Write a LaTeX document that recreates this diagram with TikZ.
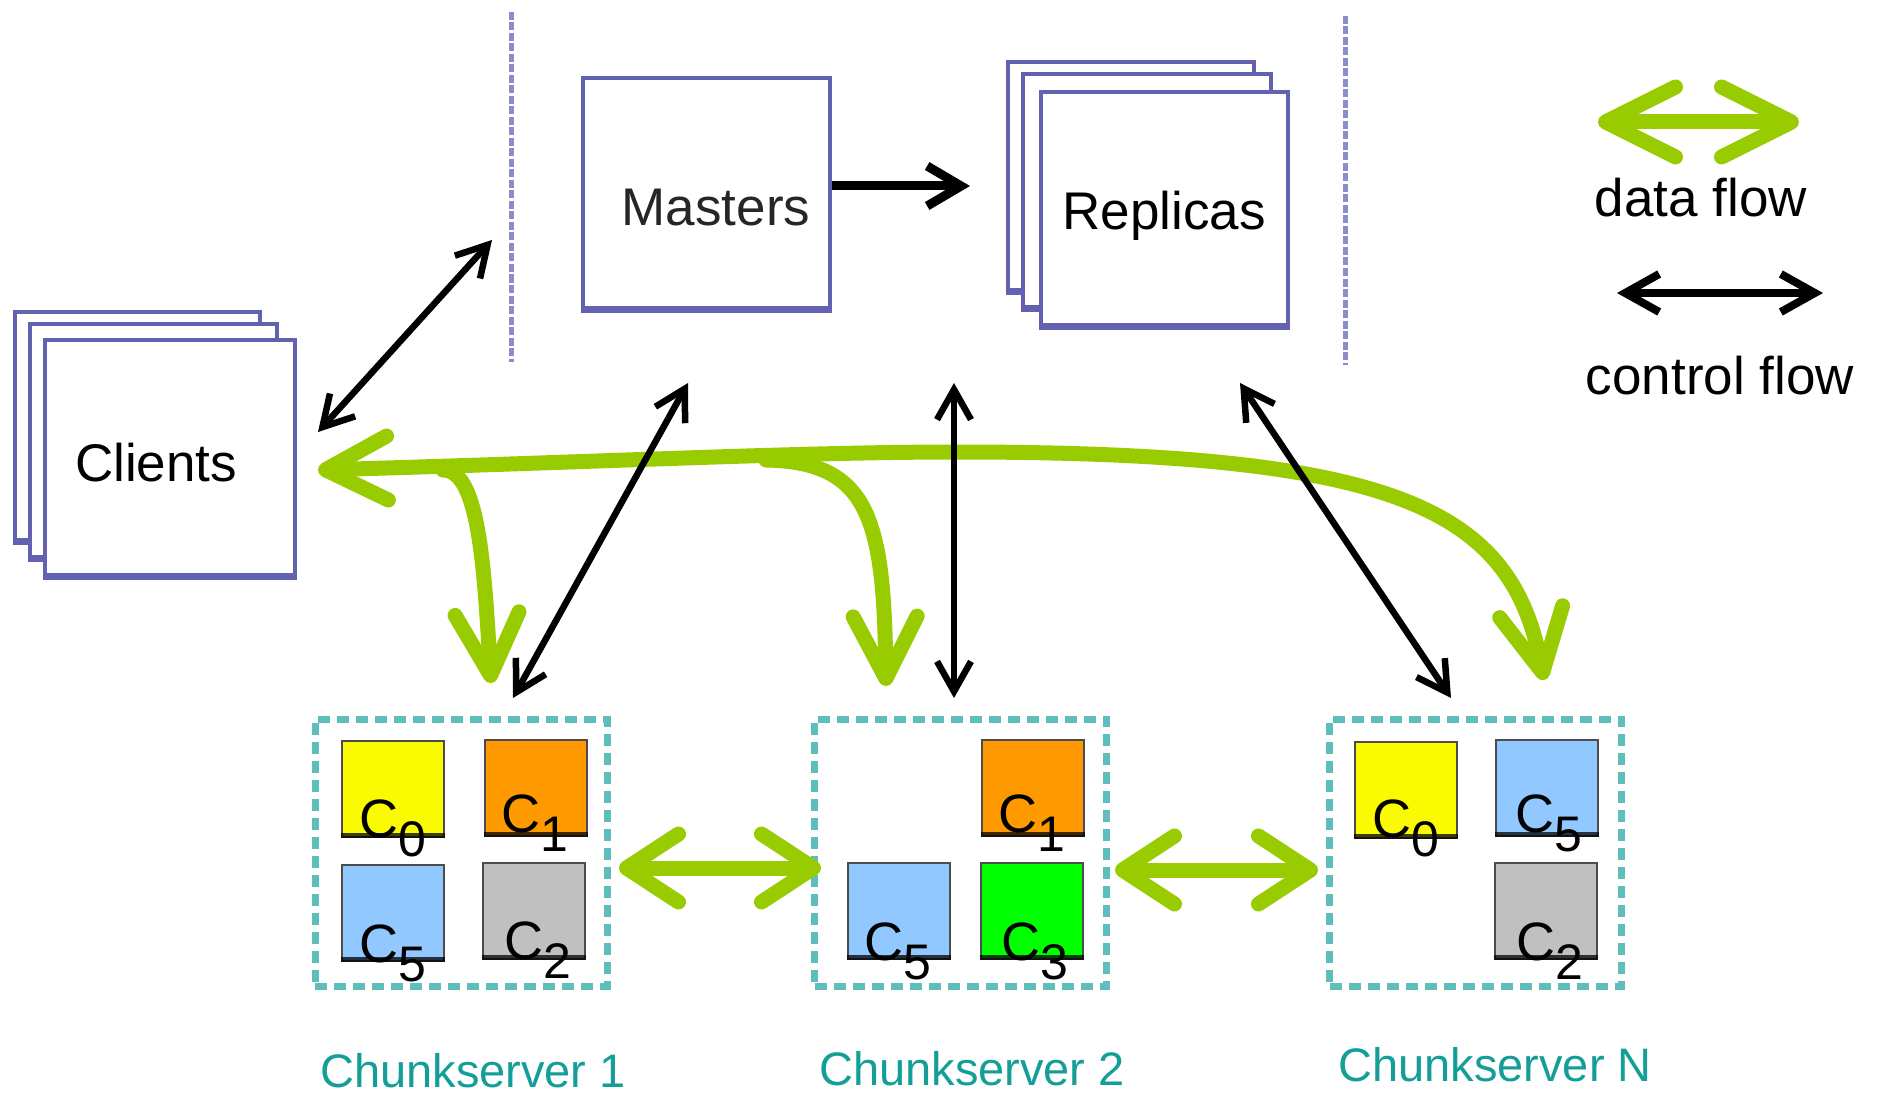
\documentclass[tikz,border=0pt]{standalone}
\usepackage{fontspec}
\setmainfont{Liberation Sans}
\usetikzlibrary{arrows.meta}
\definecolor{boxblue}{RGB}{98,98,176}
\definecolor{dashblue}{RGB}{140,140,200}
\definecolor{tealline}{RGB}{94,190,188}
\definecolor{tealtxt}{RGB}{20,158,152}
\definecolor{dgreen}{RGB}{153,204,0}
\definecolor{cyel}{RGB}{250,250,0}
\definecolor{corg}{RGB}{255,153,0}
\definecolor{cblue}{RGB}{144,200,255}
\definecolor{cgray}{RGB}{192,192,192}
\definecolor{cgreen}{RGB}{0,255,0}
\newcommand{\chunksub}[1]{\raisebox{-19pt}{\fontsize{50}{50}\selectfont #1}}
\begin{document}
\begin{tikzpicture}[x=1pt,y=-1pt,
  sbox/.style={draw=boxblue, line width=3.5pt, fill=white, inner sep=0pt},
  bottomedge/.style={draw=boxblue, line width=7pt},
  bigtxt/.style={font=\fontsize{53}{60}\selectfont, inner sep=0pt},
  cslabel/.style={font=\fontsize{47}{56}\selectfont, text=tealtxt, inner sep=0pt},
  csbox/.style={draw=tealline, line width=7pt, dash pattern=on 12pt off 7pt, minimum width=292pt, minimum height=267pt, inner sep=0pt},
  chunk/.style={draw=black!70, line width=2pt, minimum width=102pt, minimum height=96pt, inner sep=0pt},
  chunkbase/.style={draw=black, opacity=.75, line width=5pt},
  clab/.style={font=\fontsize{54}{60}\selectfont, inner sep=0pt, anchor=base west},
  vdash/.style={draw=dashblue, line width=5pt, dash pattern=on 8pt off 2.5pt},
  ctrl/.style={draw=black, line width=6.5pt, >={Straight Barb[length=30pt,width=34pt]}},
  data/.style={draw=dgreen, line width=15pt, line cap=round, >={Straight Barb[round,length=62pt,width=64pt]}},
]
\useasboundingbox (0,0) rectangle (1877,1094);

% ---------- Clients stack ----------
\node[sbox, minimum width=245pt, minimum height=228pt] (cl3) at (137.5,426) {};
\draw[bottomedge] (cl3.south west) -- (cl3.south east);
\node[sbox, minimum width=247pt, minimum height=233pt] (cl2) at (153.5,440.5) {};
\draw[bottomedge] (cl2.south west) -- (cl2.south east);
\node[sbox, minimum width=250pt, minimum height=235pt] (clients) at (170,457.5) {};
\draw[bottomedge] (clients.south west) -- (clients.south east);
\node[bigtxt] (clientstxt) at (156,463) {Clients};

% ---------- Masters ----------
\node[sbox, minimum width=247pt, minimum height=230pt] (masters) at (706.5,193) {};
\draw[bottomedge] (masters.south west) -- (masters.south east);
\node[bigtxt, text=black!85] (masterstxt) at (716,208) {Masters};

% ---------- Replicas stack ----------
\node[sbox, minimum width=246pt, minimum height=228pt] (rp3) at (1131,176) {};
\draw[bottomedge] (rp3.south west) -- (rp3.south east);
\node[sbox, minimum width=248pt, minimum height=233pt] (rp2) at (1147,190.5) {};
\draw[bottomedge] (rp2.south west) -- (rp2.south east);
\node[sbox, minimum width=247pt, minimum height=233pt] (replicas) at (1164.5,208.5) {};
\draw[bottomedge] (replicas.south west) -- (replicas.south east);
\node[bigtxt] (replicastxt) at (1164,216) {Replicas};

% ---------- dashed separators ----------
\coordinate (d1t) at (511,12);
\coordinate (d1b) at (511,362);
\coordinate (d2t) at (1345,16);
\coordinate (d2b) at (1345,365);
\draw[vdash] (d1t) -- (d1b);
\draw[vdash] (d2t) -- (d2b);

% ---------- Chunkservers ----------
\node[csbox] (cs1) at (461,852.5) {};
\node[csbox] (cs2) at (960.5,852.5) {};
\node[csbox] (csN) at (1475.5,852.5) {};

% chunks server 1
\node[chunk, fill=cyel] (a0) at (392.5,789) {};
\node[chunk, fill=corg] (a1) at (535.5,787.5) {};
\node[chunk, fill=cblue] (a5) at (392.5,913) {};
\node[chunk, fill=cgray] (a2) at (534,910.5) {};
% chunks server 2
\node[chunk, fill=corg] (b1) at (1032.5,787.5) {};
\node[chunk, fill=cblue] (b5) at (898.5,911) {};
\node[chunk, fill=cgreen] (b3) at (1031.5,911) {};
% chunks server N
\node[chunk, fill=cyel] (n0) at (1405.5,789.5) {};
\node[chunk, fill=cblue] (n5) at (1547,787.5) {};
\node[chunk, fill=cgray] (n2) at (1546,911) {};

\foreach \c in {a0,a1,a5,a2,b1,b5,b3,n0,n5,n2}{
  \draw[chunkbase] ([yshift=2.5pt]\c.south west) -- ([yshift=2.5pt]\c.south east);
}

\node[clab] (la0) at ([xshift=19pt,yshift=1pt]a0.south west) {C\chunksub{0}};
\node[clab] (la1) at ([xshift=18pt,yshift=4pt]a1.south west) {C\chunksub{1}};
\node[clab] (la5) at ([xshift=19pt,yshift=0pt]a5.south west) {C\chunksub{5}};
\node[clab] (la2) at ([xshift=22pt,yshift=0pt]a2.south west) {C\chunksub{2}};
\node[clab] (lb1) at ([xshift=18pt,yshift=4pt]b1.south west) {C\chunksub{1}};
\node[clab] (lb5) at ([xshift=18pt,yshift=0pt]b5.south west) {C\chunksub{5}};
\node[clab] (lb3) at ([xshift=22pt,yshift=0pt]b3.south west) {C\chunksub{3}};
\node[clab] (ln0) at ([xshift=19pt,yshift=1pt]n0.south west) {C\chunksub{0}};
\node[clab] (ln5) at ([xshift=20pt,yshift=4pt]n5.south west) {C\chunksub{5}};
\node[clab] (ln2) at ([xshift=22pt,yshift=0pt]n2.south west) {C\chunksub{2}};

\node[cslabel] (cs1txt) at (473,1071) {Chunkserver 1};
\node[cslabel] (cs2txt) at (972,1069) {Chunkserver 2};
\node[cslabel] (csNtxt) at (1495,1065) {Chunkserver N};

% ---------- data flow (green) ----------
\coordinate (gC) at (318,470);
\coordinate (gM) at (958,452);
\coordinate (gN) at (1544,680);
\coordinate (b1s) at (443,470);
\coordinate (b1e) at (491,683);
\coordinate (b2s) at (766,460);
\coordinate (b2e) at (886,686);
\draw[data,->] (b1s) .. controls (478,470) and (484,560) .. (b1e);
\draw[data,->] (b2s) .. controls (870,462) and (884,520) .. (b2e);
\draw[data,<->] (gC) .. controls (600,462) and (800,452) .. (gM)
                     .. controls (1400,452) and (1512,510) .. (gN);

\coordinate (l12a) at (619,868);
\coordinate (l12b) at (821,868);
\coordinate (l2Na) at (1115,870);
\coordinate (l2Nb) at (1318,870);
\draw[data,<->,>={Straight Barb[round,length=52pt,width=68pt]}] (l12a) -- (l12b);
\draw[data,<->,>={Straight Barb[round,length=52pt,width=68pt]}] (l2Na) -- (l2Nb);

% ---------- control flow (black) ----------
\coordinate (mrA) at (masters.east |- 0,186);
\coordinate (mrB) at (970,186);
\draw[ctrl,->,line width=9pt,>={Straight Barb[length=34pt,width=40pt]}] (mrA) -- (mrB);

\coordinate (c1a) at (318,432);
\coordinate (c1b) at (492,240);
\draw[ctrl,<->] (c1a) -- (c1b);
\coordinate (c2a) at (513,698);
\coordinate (c2b) at (688,383);
\draw[ctrl,<->] (c2a) -- (c2b);
\coordinate (c3a) at (954,698);
\coordinate (c3b) at (954,383);
\draw[ctrl,<->] (c3a) -- (c3b);
\coordinate (c4a) at (1451,698);
\coordinate (c4b) at (1240,383);
\draw[ctrl,<->] (c4a) -- (c4b);

% ---------- legend ----------
\coordinate (lgA) at (1598,122);
\coordinate (lgB) at (1799,122);
\draw[data,<->,>={Straight Barb[round,length=70pt,width=70pt]}] (lgA) -- (lgB);
\node[bigtxt] (dftxt) at (1701,198) {data flow};
\coordinate (lcA) at (1617,293);
\coordinate (lcB) at (1823,293);
\draw[ctrl,<->,line width=8pt,>={Straight Barb[length=34pt,width=38pt]}] (lcA) -- (lcB);
\node[bigtxt] (cftxt) at (1720,376) {control flow};
\end{tikzpicture}
\end{document}
